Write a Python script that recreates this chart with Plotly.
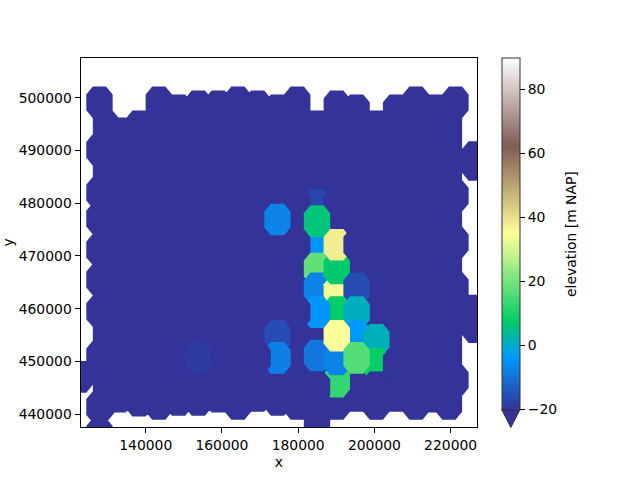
import numpy as np
import plotly.graph_objects as go
from plotly.colors import sample_colorscale

# mesh lattice: one column = 5189 m, one row step = 1500 m (rows count downwards)
X0, DX = 127867.0, 5189.0
Y0, DY = 499108.0, 1500.0
VMIN, VMAX = -20, 90
NODATA_LOW = -25

# main body of the mesh: column index with the first and last row of cells
body_col = [0.33, 1, 2, 3, 4, 5, 6, 7, 8, 9, 10, 11, 12, 13, 14, 15, 16, 17, 17.67]
body_first = [3.04, 3.9, 3.04, 0, 1, 0.5, 0.5, 0, 0.5, 1, 0, 3.04, 0.5, 1, 3.04, 1, 0, 1, 3.04]
body_last = [37.5, 37.2, 37.7, 38.1, 37.6, 37.6, 37.2, 38.1, 37.1, 37.6, 38.1, 40, 38.1, 37.1, 38.1, 37.1, 38.1, 37.2, 38.1]

# separate low cells on the mesh margin
edge_col = [0, 0, 0, 0, 0, 0, 0, 0, 0, 0, -1, 18, 18, 18, 18, 18, 19, 19, 19, 19, 19]
edge_row = [0, 6.0, 11.4, 14.7, 18.6, 22.4, 26.4, 32.1, 38.5, 41.9, 34.7, 0, 11.8, 17.7, 23.4, 35.1, 6.9, 7.9, 26.3, 27.3, 28.4]

# cells above the background, listed in drawing order
cell_col = [5, 9, 9, 8,
            11, 10, 12, 11, 10, 11, 11, 12, 12, 11, 12, 13, 13, 9,
            12, 11, 10, 13, 13, 11, 12, 11, 12, 12, 14, 14, 14, 15, 13]
cell_row = [32.3, 29.5, 32.3, 32.3,
            13, 13, 13, 18, 18, 21, 23.5, 24, 21, 15, 18, 18, 23.5, 14.8,
            26.5, 26.5, 26.5, 26.5, 29.5, 32, 35.3, 36, 32.5, 29.5, 30, 33, 36, 33, 32.3]
cell_elevation = [-18.5, -16, -7.5, NODATA_LOW,
                  -17, NODATA_LOW, NODATA_LOW, -4, NODATA_LOW, 18, -7, 33.5, 7, 6, 38, NODATA_LOW, -16, -7,
                  8, -4, NODATA_LOW, 1, -3.5, -9, 13, NODATA_LOW, -7, 35, 1.5, 8, NODATA_LOW, NODATA_LOW, 16.5]

terrain = [[0.0, "rgb(51,51,153)"], [0.15, "rgb(0,153,255)"], [0.25, "rgb(0,204,102)"],
           [0.5, "rgb(255,255,153)"], [0.75, "rgb(128,92,84)"], [1.0, "rgb(255,255,255)"]]

# octagonal cell outline, in column / row units
OCT_C = np.array([-1/3, 1/3, 2/3, 2/3, 1/3, -1/3, -2/3, -2/3, -1/3])
OCT_R = np.array([-2, -2, -1, 1, 2, 2, 1, -1, -2])


def outline(col, row):
    return X0 + DX * (col + OCT_C), Y0 - DY * (row + OCT_R)


def colour(v):
    f = min(max((v - VMIN) / (VMAX - VMIN), 0), 1)
    return sample_colorscale(terrain, [f])[0]


fig = go.Figure()

# background: all the lowest cells as one filled trace
bx, by = [], []
for c, a, b in zip(body_col, body_first, body_last):
    rows = list(np.arange(a, b, 2.0)) + [b]
    for r in rows:
        x, y = outline(c, r)
        bx += list(x) + [None]
        by += list(y) + [None]
for c, r in zip(edge_col, edge_row):
    x, y = outline(c, r)
    bx += list(x) + [None]
    by += list(y) + [None]
fig.add_trace(go.Scatter(x=bx, y=by, mode="lines", fill="toself", fillcolor=colour(VMIN),
                         line=dict(width=0), hoverinfo="skip", showlegend=False))

for c, r, v in zip(cell_col, cell_row, cell_elevation):
    x, y = outline(c, r)
    fig.add_trace(go.Scatter(x=list(x), y=list(y), mode="lines", fill="toself", fillcolor=colour(v),
                             line=dict(width=0), hoverinfo="skip", showlegend=False))

# colour bar carrier
fig.add_trace(go.Scatter(
    x=[None, None], y=[None, None], mode="markers", showlegend=False, hoverinfo="skip",
    marker=dict(color=[VMIN, VMAX], cmin=VMIN, cmax=VMAX, colorscale=terrain, showscale=True,
                colorbar=dict(x=501.7/640, xanchor="left", xpad=0, ypad=0,
                              y=(480-57.6)/480, yanchor="top",
                              lenmode="fraction", len=352/480,
                              thicknessmode="pixels", thickness=18.3,
                              outlinecolor="#333333", outlinewidth=1,
                              tickmode="linear", tick0=-20, dtick=20,
                              ticks="outside", ticklen=5, tickwidth=1, tickcolor="black",
                              tickfont=dict(size=13.9, color="black")))))

axis_common = dict(showgrid=False, zeroline=False, showline=True, mirror=True, linecolor="black",
                   linewidth=1, ticks="outside", ticklen=5, tickwidth=1, tickcolor="black",
                   tickformat="d", tickfont=dict(size=13.9, color="black"))
fig.update_layout(
    width=640, height=480, autosize=False,
    margin=dict(l=0, r=0, t=0, b=0),
    paper_bgcolor="white", plot_bgcolor="white",
    font=dict(family="DejaVu Sans", size=13.9, color="black"),
    xaxis=dict(domain=[80.5/640, 477/640], range=[122888, 226920], dtick=20000, tick0=0,
               title=dict(text="x", standoff=5, font=dict(size=13.9)), **axis_common),
    yaxis=dict(domain=[(480-427.2)/480, (480-57.6)/480], range=[437530, 507595], dtick=10000, tick0=0,
               title=dict(text="y", standoff=9, font=dict(size=13.9)), **axis_common),
    shapes=[dict(type="path", xref="paper", yref="paper", layer="above",
                 path=f"M {501.7/640} {(480-409.6)/480} L {520/640} {(480-409.6)/480} "
                      f"L {510.85/640} {(480-427.5)/480} Z",
                 fillcolor=colour(VMIN), line=dict(color="#333333", width=1))],
    annotations=[dict(text="elevation [m NAP]", xref="paper", yref="paper",
                      x=571/640, y=(480-234)/480, xanchor="center", yanchor="middle",
                      textangle=-90, showarrow=False, font=dict(size=13.9, color="black"))],
)

fig.write_html("out.html", post_script="document.body.style.margin='0';",
               config={"displayModeBar": False})
